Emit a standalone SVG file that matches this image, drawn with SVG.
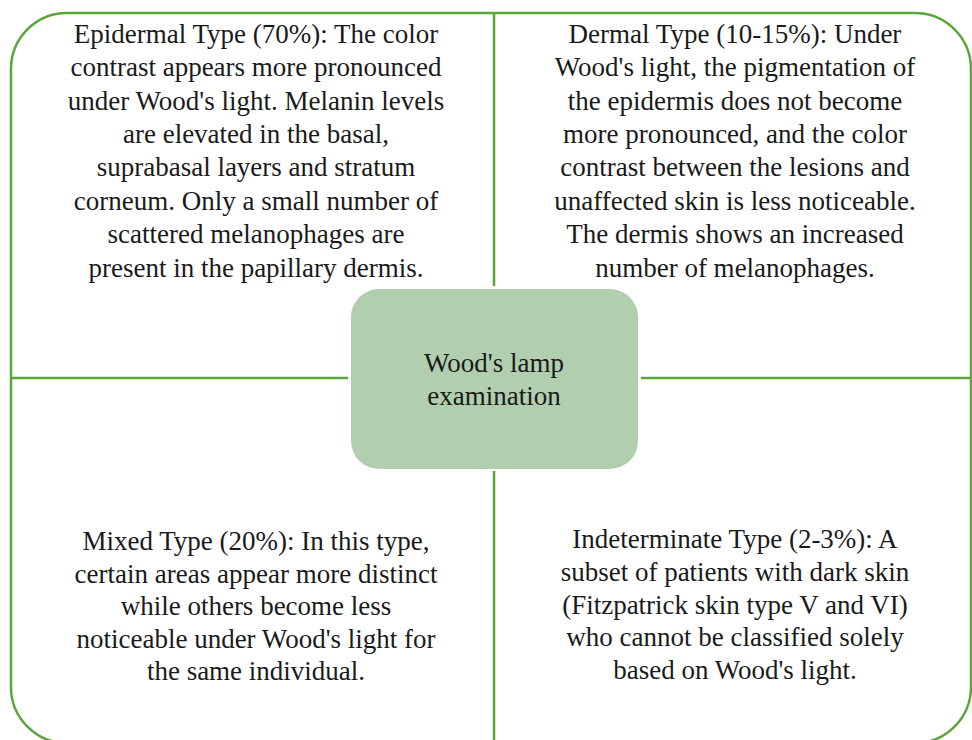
<svg xmlns="http://www.w3.org/2000/svg" width="972" height="740" viewBox="0 0 972 740">
<style>
.frame{fill:none;stroke:#5aa63a;stroke-width:2.5}
.div{stroke:#5aa63a;stroke-width:2.5;fill:none}
.t{font-family:"Liberation Serif","DejaVu Serif",serif;font-size:27px;fill:#1a1a1a;text-anchor:middle}
</style>
<rect width="972" height="740" fill="#ffffff"/>
<g id="frame">
<rect class="frame" x="11" y="13" width="960" height="730" rx="56" ry="56"/>
</g>
<g id="connectors">
<line class="div" x1="494" y1="13" x2="494" y2="286"/>
<line class="div" x1="494" y1="471" x2="494" y2="742"/>
<line class="div" x1="11" y1="378" x2="348" y2="378"/>
<line class="div" x1="641" y1="378" x2="972" y2="378"/>
</g>
<g id="quad-epidermal">
<text class="t" x="256" y="43">Epidermal Type (70%):  The color</text>
<text class="t" x="256" y="76">contrast appears more pronounced</text>
<text class="t" x="256" y="110">under Wood's light.  Melanin levels</text>
<text class="t" x="256" y="143">are elevated in the basal,</text>
<text class="t" x="256" y="176">suprabasal layers and stratum</text>
<text class="t" x="256" y="210">corneum. Only a small number of</text>
<text class="t" x="256" y="243">scattered melanophages are</text>
<text class="t" x="256" y="277">present in the papillary  dermis.</text>
</g>
<g id="quad-dermal">
<text class="t" x="735" y="43">Dermal Type (10-15%):  Under</text>
<text class="t" x="735" y="76">Wood's light, the pigmentation of</text>
<text class="t" x="735" y="110">the epidermis does not become</text>
<text class="t" x="735" y="143">more pronounced, and the color</text>
<text class="t" x="735" y="176">contrast between the lesions and</text>
<text class="t" x="735" y="210">unaffected skin is less noticeable.</text>
<text class="t" x="735" y="243">The dermis shows an increased</text>
<text class="t" x="735" y="277">number of melanophages.</text>
</g>
<g id="quad-mixed">
<text class="t" x="256" y="550">Mixed Type (20%):  In this type,</text>
<text class="t" x="256" y="583">certain areas appear more distinct</text>
<text class="t" x="256" y="615">while  others become less</text>
<text class="t" x="256" y="648">noticeable under Wood's light  for</text>
<text class="t" x="256" y="680">the same individual.</text>
</g>
<g id="quad-indeterminate">
<text class="t" x="735" y="548">Indeterminate Type (2-3%):  A</text>
<text class="t" x="735" y="581">subset of patients with dark skin</text>
<text class="t" x="735" y="614">(Fitzpatrick  skin type V and VI)</text>
<text class="t" x="735" y="646">who cannot be classified  solely</text>
<text class="t" x="735" y="679">based on Wood's light.</text>
</g>
<g id="center">
<rect x="351" y="289" width="287" height="180" rx="28" ry="28" fill="#b1cfae"/>
<text class="t" x="494" y="372">Wood's lamp</text>
<text class="t" x="494" y="405">examination</text>
</g>
</svg>
